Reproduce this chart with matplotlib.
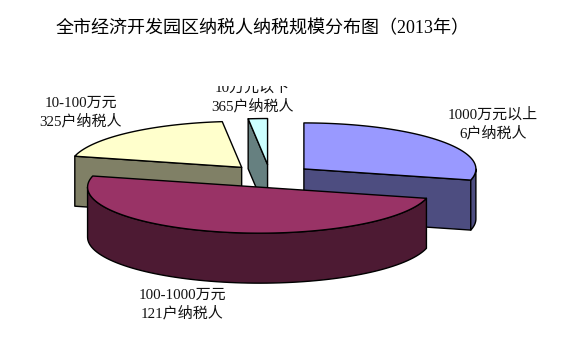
import numpy as np
import matplotlib
matplotlib.use("Agg")
import matplotlib.pyplot as plt
from matplotlib.patches import Polygon, Rectangle

# digits from the serif face, Chinese falls through to Noto
plt.rcParams['font.family'] = ['Liberation Serif', 'Noto Sans CJK SC', 'DejaVu Sans']

title = "全市经济开发园区纳税人纳税规模分布图（2013年）"
# clockwise from 12 o'clock
groups = ["1000万元以上", "100-1000万元", "10-100万元", "10万元以下"]
households = ["6户纳税人", "121户纳税人", "325户纳税人", "365户纳税人"]
shares = [28.9, 50.0, 19.3, 1.8]

top_colors = ["#9999FF", "#993366", "#FFFFCC", "#CCFFFF"]
side_colors = ["#4D4D80", "#4D1A33", "#808066", "#668080"]
label_pos = [(493, 124), (182, 304), (81, 112), (252, 97.5)]
draw_order = [2, 3, 0, 1]

# pie geometry in pixels
cx, cy = 270, 176
rx, ry = 172, 46
depth = 50
explode = 0.25


def rim(ax0, ay0, theta):
    return np.column_stack([ax0 + rx * np.sin(theta), ay0 - ry * np.cos(theta)])


def add_poly(ax, pts, color):
    ax.add_patch(Polygon(pts, closed=True, facecolor=color, edgecolor="black",
                         linewidth=1.0, joinstyle="round"))


fig = plt.figure(figsize=(5.76, 3.53), dpi=100)
ax = fig.add_axes([0, 0, 1, 1])
ax.set_xlim(0, 576)
ax.set_ylim(353, 0)
ax.axis("off")

edges = np.radians(np.concatenate([[0], np.cumsum(shares)]) * 3.6)
down = np.array([0, depth])

for i in draw_order:
    t0, t1 = edges[i], edges[i + 1]
    mid = (t0 + t1) / 2
    ax0 = cx + explode * rx * np.sin(mid)
    ay0 = cy - explode * ry * np.cos(mid)
    apex = np.array([ax0, ay0])

    # cut faces turned toward the viewer
    if np.sin(t0) < -1e-6:
        p = rim(ax0, ay0, np.array([t0]))[0]
        add_poly(ax, [apex, p, p + down, apex + down], side_colors[i])
    if np.sin(t1) > 1e-6:
        p = rim(ax0, ay0, np.array([t1]))[0]
        add_poly(ax, [apex, p, p + down, apex + down], side_colors[i])

    # outer wall, only the front half of the ellipse shows
    w0, w1 = max(t0, np.pi / 2), min(t1, 3 * np.pi / 2)
    if w1 > w0:
        arc = rim(ax0, ay0, np.linspace(w0, w1, 80))
        add_poly(ax, np.vstack([arc, (arc + down)[::-1]]), side_colors[i])

    arc = rim(ax0, ay0, np.linspace(t0, t1, 120))
    add_poly(ax, np.vstack([apex, arc]), top_colors[i])

ax.text(56, 29, title, fontsize=13.0, color="black", ha="left", va="center")

for i in range(len(groups)):
    x, y = label_pos[i]
    ax.text(x, y - 9, groups[i], fontsize=10.8, color="#111111", ha="center", va="center")
    ax.text(x, y + 9, households[i], fontsize=10.8, color="#111111", ha="center", va="center")

# the top label is cut off by the plot area in the original
ax.texts[-2].set_clip_path(Rectangle((0, 86), 576, 267, transform=ax.transData))
ax.texts[-2].set_clip_on(True)

fig.savefig("out.png", dpi=100, facecolor="white")
